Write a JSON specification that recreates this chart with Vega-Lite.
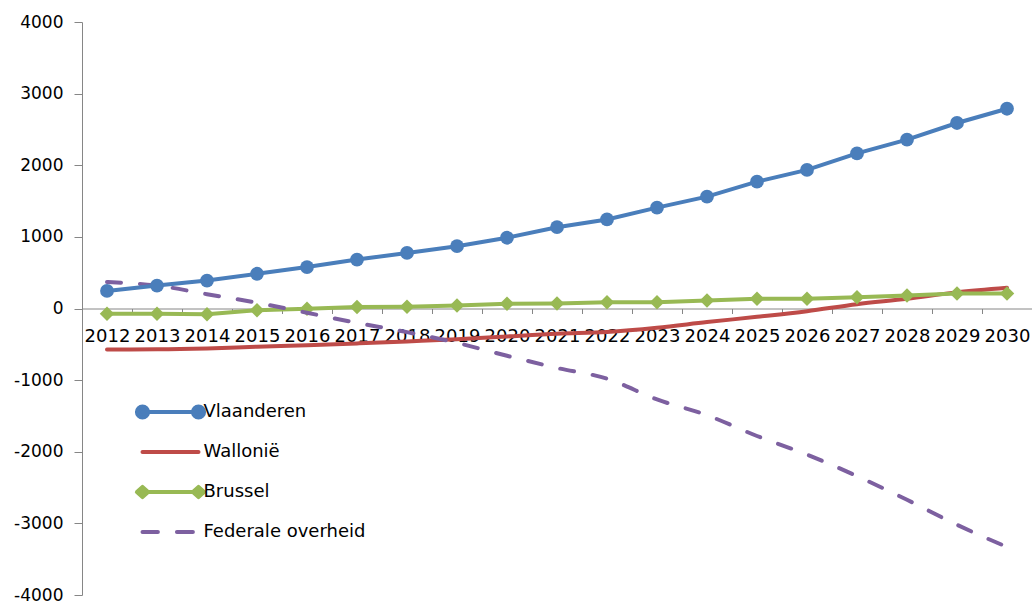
{
  "$schema": "https://vega.github.io/schema/vega-lite/v6.json",
  "autosize": "none",
  "width": 950,
  "height": 573,
  "padding": {"left": 82, "top": 22, "right": 0, "bottom": 6},
  "background": "white",
  "config": {
    "view": {"stroke": null},
    "font": "DejaVu Sans"
  },
  "data": {
    "values": [
      {"year": "2012", "series": "Vlaanderen", "value": 245},
      {"year": "2013", "series": "Vlaanderen", "value": 320},
      {"year": "2014", "series": "Vlaanderen", "value": 390},
      {"year": "2015", "series": "Vlaanderen", "value": 485},
      {"year": "2016", "series": "Vlaanderen", "value": 578},
      {"year": "2017", "series": "Vlaanderen", "value": 683},
      {"year": "2018", "series": "Vlaanderen", "value": 776},
      {"year": "2019", "series": "Vlaanderen", "value": 870},
      {"year": "2020", "series": "Vlaanderen", "value": 988},
      {"year": "2021", "series": "Vlaanderen", "value": 1135},
      {"year": "2022", "series": "Vlaanderen", "value": 1243},
      {"year": "2023", "series": "Vlaanderen", "value": 1408},
      {"year": "2024", "series": "Vlaanderen", "value": 1562},
      {"year": "2025", "series": "Vlaanderen", "value": 1771},
      {"year": "2026", "series": "Vlaanderen", "value": 1935},
      {"year": "2027", "series": "Vlaanderen", "value": 2165},
      {"year": "2028", "series": "Vlaanderen", "value": 2357},
      {"year": "2029", "series": "Vlaanderen", "value": 2590},
      {"year": "2030", "series": "Vlaanderen", "value": 2789},
      {"year": "2012", "series": "Wallonië", "value": -572},
      {"year": "2013", "series": "Wallonië", "value": -570},
      {"year": "2014", "series": "Wallonië", "value": -558},
      {"year": "2015", "series": "Wallonië", "value": -534},
      {"year": "2016", "series": "Wallonië", "value": -514},
      {"year": "2017", "series": "Wallonië", "value": -488},
      {"year": "2018", "series": "Wallonië", "value": -460},
      {"year": "2019", "series": "Wallonië", "value": -430},
      {"year": "2020", "series": "Wallonië", "value": -390},
      {"year": "2021", "series": "Wallonië", "value": -352},
      {"year": "2022", "series": "Wallonië", "value": -328},
      {"year": "2023", "series": "Wallonië", "value": -270},
      {"year": "2024", "series": "Wallonië", "value": -190},
      {"year": "2025", "series": "Wallonië", "value": -116},
      {"year": "2026", "series": "Wallonië", "value": -37},
      {"year": "2027", "series": "Wallonië", "value": 60},
      {"year": "2028", "series": "Wallonië", "value": 135},
      {"year": "2029", "series": "Wallonië", "value": 225},
      {"year": "2030", "series": "Wallonië", "value": 289},
      {"year": "2012", "series": "Brussel", "value": -74},
      {"year": "2013", "series": "Brussel", "value": -74},
      {"year": "2014", "series": "Brussel", "value": -80},
      {"year": "2015", "series": "Brussel", "value": -23},
      {"year": "2016", "series": "Brussel", "value": -5},
      {"year": "2017", "series": "Brussel", "value": 20},
      {"year": "2018", "series": "Brussel", "value": 24},
      {"year": "2019", "series": "Brussel", "value": 42},
      {"year": "2020", "series": "Brussel", "value": 65},
      {"year": "2021", "series": "Brussel", "value": 70},
      {"year": "2022", "series": "Brussel", "value": 88},
      {"year": "2023", "series": "Brussel", "value": 88},
      {"year": "2024", "series": "Brussel", "value": 112},
      {"year": "2025", "series": "Brussel", "value": 135},
      {"year": "2026", "series": "Brussel", "value": 135},
      {"year": "2027", "series": "Brussel", "value": 158},
      {"year": "2028", "series": "Brussel", "value": 181},
      {"year": "2029", "series": "Brussel", "value": 209},
      {"year": "2030", "series": "Brussel", "value": 209},
      {"year": "2012", "series": "Federale overheid", "value": 370},
      {"year": "2013", "series": "Federale overheid", "value": 320},
      {"year": "2014", "series": "Federale overheid", "value": 200},
      {"year": "2015", "series": "Federale overheid", "value": 80},
      {"year": "2016", "series": "Federale overheid", "value": -60},
      {"year": "2017", "series": "Federale overheid", "value": -200},
      {"year": "2018", "series": "Federale overheid", "value": -330},
      {"year": "2019", "series": "Federale overheid", "value": -480},
      {"year": "2020", "series": "Federale overheid", "value": -660},
      {"year": "2021", "series": "Federale overheid", "value": -830},
      {"year": "2022", "series": "Federale overheid", "value": -980},
      {"year": "2023", "series": "Federale overheid", "value": -1270},
      {"year": "2024", "series": "Federale overheid", "value": -1490},
      {"year": "2025", "series": "Federale overheid", "value": -1780},
      {"year": "2026", "series": "Federale overheid", "value": -2040},
      {"year": "2027", "series": "Federale overheid", "value": -2340},
      {"year": "2028", "series": "Federale overheid", "value": -2670},
      {"year": "2029", "series": "Federale overheid", "value": -3020},
      {"year": "2030", "series": "Federale overheid", "value": -3330}
    ]
  },
  "encoding": {
    "x": {
      "field": "year",
      "type": "ordinal",
      "scale": {"type": "band", "paddingInner": 0, "paddingOuter": 0},
      "axis": {
        "title": null,
        "labelAngle": 0,
        "offset": -286.5,
        "domainColor": "#868686",
        "domainWidth": 1,
        "tickColor": "#868686",
        "tickSize": 5,
        "tickBand": "extent",
        "labelPadding": 14,
        "labelFontSize": 18,
        "labelColor": "#000000",
        "labelFont": "DejaVu Sans"
      }
    },
    "y": {
      "field": "value",
      "type": "quantitative",
      "scale": {"domain": [-4000, 4000], "nice": false, "zero": false},
      "axis": {
        "title": null,
        "grid": false,
        "values": [-4000, -3000, -2000, -1000, 0, 1000, 2000, 3000, 4000],
        "labelExpr": "'' + datum.value",
        "domainColor": "#868686",
        "tickColor": "#868686",
        "tickSize": 8,
        "labelPadding": 11,
        "labelFontSize": 17,
        "labelColor": "#000000",
        "labelFont": "DejaVu Sans"
      }
    }
  },
  "layer": [
    {
      "transform": [{"filter": "datum.series === 'Wallonië'"}],
      "mark": {"type": "line", "interpolate": "monotone", "strokeWidth": 4, "strokeCap": "round"},
      "encoding": {
        "color": {
          "field": "series",
          "type": "nominal",
          "scale": {
            "domain": ["Vlaanderen", "Wallonië", "Brussel", "Federale overheid"],
            "range": ["#4A7EBB", "#BE4B48", "#98B954", "#7D60A0"]
          },
          "legend": {
            "title": null,
            "orient": "none",
            "legendX": 48.5,
            "legendY": 370,
            "padding": 0,
            "rowPadding": 0,
            "clipHeight": 40,
            "symbolSize": 3136,
            "symbolStrokeWidth": 4,
            "symbolOffset": 10,
            "labelOffset": 3,
            "labelLimit": 400,
            "labelFontSize": 18,
            "labelFont": "DejaVu Sans",
            "labelColor": "#000000",
            "encode": {
              "symbols": {
                "update": {
                  "shape": {"signal": "datum.value === 'Vlaanderen' ? 'M-1,0L1,0M-0.8,0A0.2,0.2,0,1,1,-1.2,0A0.2,0.2,0,1,1,-0.8,0ZM1.2,0A0.2,0.2,0,1,1,0.8,0A0.2,0.2,0,1,1,1.2,0Z' : datum.value === 'Brussel' ? 'M-1,0L1,0M-1.2,0L-1,-0.18L-0.8,0L-1,0.18ZM0.8,0L1,-0.18L1.2,0L1,0.18Z' : datum.value === 'Wallonië' ? 'M-1,0L1,0' : 'M-1,0L-0.45,0M0.23,0L0.8,0'"},
                  "fill": {"scale": "color", "field": "value"},
                  "stroke": {"scale": "color", "field": "value"},
                  "strokeWidth": {"value": 4},
                  "strokeCap": {"value": "round"},
                  "strokeJoin": {"value": "round"},
                  "opacity": {"value": 1}
                }
              }
            }
          }
        }
      }
    },
    {
      "transform": [{"filter": "datum.series === 'Brussel'"}],
      "mark": {"type": "line", "strokeWidth": 4, "strokeCap": "round"},
      "encoding": {"color": {"field": "series", "type": "nominal"}}
    },
    {
      "transform": [{"filter": "datum.series === 'Brussel'"}],
      "mark": {"type": "point", "shape": "diamond", "filled": true, "size": 210, "opacity": 1, "color": "#98B954"},
      "encoding": {}
    },
    {
      "transform": [{"filter": "datum.series === 'Federale overheid'"}],
      "mark": {"type": "line", "interpolate": "monotone", "strokeWidth": 4, "strokeCap": "round", "strokeDash": [14, 19]},
      "encoding": {"color": {"field": "series", "type": "nominal"}}
    },
    {
      "transform": [{"filter": "datum.series === 'Vlaanderen'"}],
      "mark": {"type": "line", "strokeWidth": 4, "strokeCap": "round"},
      "encoding": {"color": {"field": "series", "type": "nominal"}}
    },
    {
      "transform": [{"filter": "datum.series === 'Vlaanderen'"}],
      "mark": {"type": "point", "shape": "circle", "filled": true, "size": 190, "opacity": 1, "color": "#4A7EBB"},
      "encoding": {}
    }
  ]
}
